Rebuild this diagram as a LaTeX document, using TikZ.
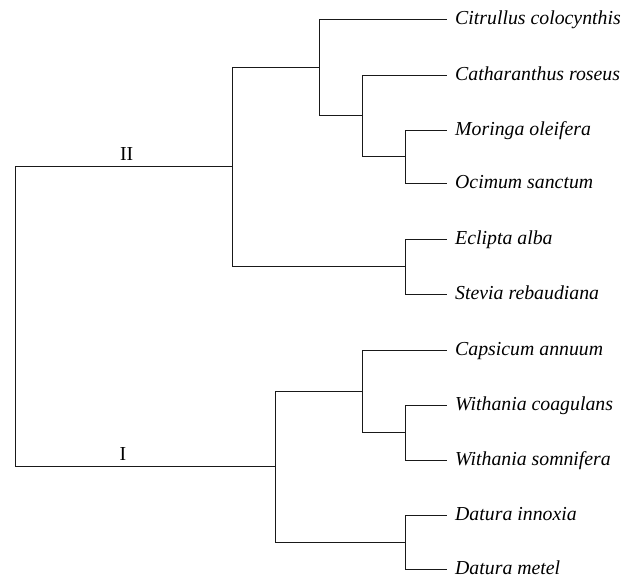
\documentclass[tikz,border=0pt]{standalone}
\usepackage{fontspec}
\setmainfont{Liberation Serif}
\begin{document}
\begin{tikzpicture}[x=1pt,y=-1pt,
  branch/.style={line width=1.2pt,draw=black!90},
  leaf/.style={anchor=west,inner xsep=8pt,inner ysep=0pt,text height=11pt,text depth=1pt,font=\fontsize{19.8}{22}\selectfont\itshape},
  clab/.style={anchor=base,inner sep=0pt,font=\fontsize{19.8}{22}\selectfont}]
\useasboundingbox (0,0) rectangle (638,577);
% internal nodes
\coordinate (R) at (15.5,316.5);
\coordinate (NII) at (232.5,166.5);
\coordinate (A) at (319.5,67.5);
\coordinate (B) at (362.5,115.5);
\coordinate (C) at (405.5,156.5);
\coordinate (E) at (405.5,266.5);
\coordinate (NI) at (275.5,466.5);
\coordinate (F) at (362.5,391.5);
\coordinate (G) at (405.5,432.5);
\coordinate (D) at (405.5,542.5);
% leaves
\node[leaf] (l1) at (447,19.5) {Citrullus colocynthis};
\node[leaf] (l2) at (447,75.5) {Catharanthus roseus};
\node[leaf] (l3) at (447,130.5) {Moringa oleifera};
\node[leaf] (l4) at (447,183.5) {Ocimum sanctum};
\node[leaf] (l5) at (447,239.5) {Eclipta alba};
\node[leaf] (l6) at (447,294.5) {Stevia rebaudiana};
\node[leaf] (l7) at (447,350.5) {Capsicum annuum};
\node[leaf] (l8) at (447,405.5) {Withania coagulans};
\node[leaf] (l9) at (447,460.5) {Withania somnifera};
\node[leaf] (l10) at (447,515.5) {Datura innoxia};
\node[leaf] (l11) at (447,569.5) {Datura metel};
% branches
\draw[branch] (R) |- (NII);
\draw[branch] (R) |- (NI);
\draw[branch] (NII) |- (A);
\draw[branch] (NII) |- (E);
\draw[branch] (A) |- (l1.west);
\draw[branch] (A) |- (B);
\draw[branch] (B) |- (l2.west);
\draw[branch] (B) |- (C);
\draw[branch] (C) |- (l3.west);
\draw[branch] (C) |- (l4.west);
\draw[branch] (E) |- (l5.west);
\draw[branch] (E) |- (l6.west);
\draw[branch] (NI) |- (F);
\draw[branch] (NI) |- (D);
\draw[branch] (F) |- (l7.west);
\draw[branch] (F) |- (G);
\draw[branch] (G) |- (l8.west);
\draw[branch] (G) |- (l9.west);
\draw[branch] (D) |- (l10.west);
\draw[branch] (D) |- (l11.west);
% clade labels
\node[clab] (cII) at (126.7,161) {II};
\node[clab] (cI) at (123,460.5) {I};
\end{tikzpicture}
\end{document}
